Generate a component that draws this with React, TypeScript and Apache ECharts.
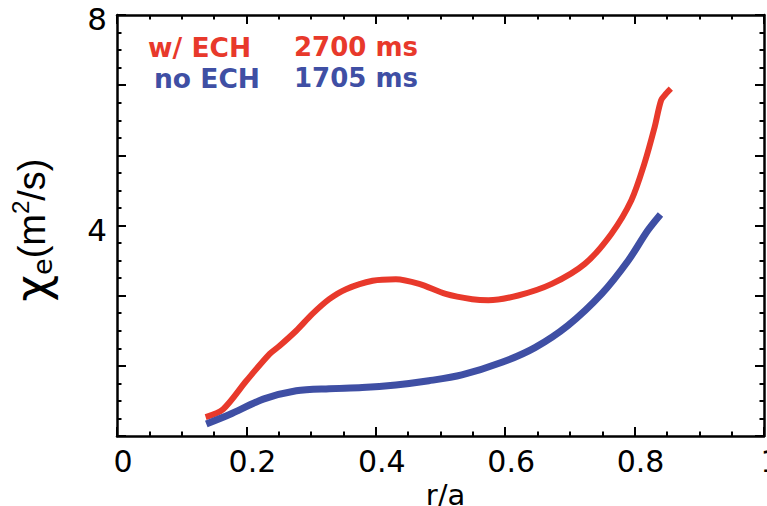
import React, { useEffect, useRef } from "react";
import * as echarts from "echarts";

// ---- data ----
const RED_R = [0.137, 0.164, 0.2, 0.236, 0.251, 0.277, 0.302, 0.328, 0.354, 0.395, 0.431, 0.467, 0.508, 0.549, 0.574, 0.62, 0.672, 0.723, 0.764, 0.795, 0.815, 0.831, 0.841, 0.849, 0.856];
const RED_V = [0.36, 0.51, 1.05, 1.56, 1.71, 2.0, 2.32, 2.6, 2.79, 2.95, 2.98, 2.89, 2.7, 2.6, 2.58, 2.67, 2.89, 3.27, 3.84, 4.48, 5.17, 5.87, 6.38, 6.51, 6.6];
const BLUE_R = [0.138, 0.174, 0.226, 0.277, 0.328, 0.379, 0.431, 0.482, 0.533, 0.595, 0.646, 0.697, 0.749, 0.79, 0.82, 0.84];
const BLUE_V = [0.23, 0.41, 0.7, 0.86, 0.9, 0.92, 0.97, 1.05, 1.16, 1.4, 1.68, 2.1, 2.7, 3.33, 3.9, 4.21];

const X_TICK_LABELS = ["0", "0.2", "0.4", "0.6", "0.8", "1"];
const Y_LABELED_TICKS = [4, 8];

const LEGEND_LEFT = ["w/ ECH", "no ECH"];
const LEGEND_RIGHT = ["2700 ms", "1705 ms"];

const RED = "#e8392b";
const BLUE = "#3f4fa4";
const FONT = "DejaVu Sans";

const zip = (a: number[], b: number[]) => a.map((v, i) => [v, b[i]]);

export default function App() {
  const ref = useRef<HTMLDivElement>(null);
  useEffect(() => {
    if (!ref.current) return;
    const chart = echarts.init(ref.current, null, { renderer: "svg" });
    const tickStyle = { color: "#000", width: 2 };
    const axisLine = { show: true, onZero: false, lineStyle: { color: "#000", width: 2.5 } };
    const xBase = {
      type: "value" as const,
      min: 0,
      max: 1,
      interval: 0.2,
      axisLine,
      axisTick: { show: true, inside: true, length: 9, lineStyle: tickStyle },
      minorTick: { show: true, splitNumber: 4, length: 4.5, lineStyle: tickStyle },
      splitLine: { show: false },
      minorSplitLine: { show: false },
    };
    const yBase = {
      type: "value" as const,
      min: 0,
      max: 8,
      interval: 4 / 3,
      axisLine,
      axisTick: { show: true, inside: true, length: 9, lineStyle: tickStyle },
      minorTick: { show: true, splitNumber: 4, length: 4.5, lineStyle: tickStyle },
      splitLine: { show: false },
      minorSplitLine: { show: false },
    };
    chart.setOption({
      animation: false,
      backgroundColor: "#fff",
      grid: { left: 117, right: 3, top: 15, bottom: 70, containLabel: false, outerBoundsMode: "none" },
      xAxis: [
        {
          ...xBase,
          position: "bottom",
          axisLabel: {
            show: true,
            margin: 10,
            color: "#000",
            fontFamily: FONT,
            fontSize: 30,
            padding: [0, 0, 0, 12],
            showMinLabel: true,
            showMaxLabel: true,
            formatter: (v: number) => X_TICK_LABELS[Math.round(v / 0.2)] ?? "",
          },
          name: "r/a",
          nameLocation: "middle",
          nameGap: 36,
          nameTextStyle: { color: "#000", fontFamily: FONT, fontSize: 29, padding: [0, 0, 0, 10] },
        },
        { ...xBase, position: "top", axisLabel: { show: false } },
      ],
      yAxis: [
        {
          ...yBase,
          position: "left",
          axisLabel: {
            show: true,
            margin: 10,
            color: "#000",
            fontFamily: FONT,
            fontSize: 31,
            formatter: (v: number) =>
              Y_LABELED_TICKS.some((t) => Math.abs(t - v) < 1e-6) ? `{d|${Math.round(v)}}` : "",
            rich: {
              d: { fontFamily: FONT, fontSize: 31, color: "#000", padding: [8, 0, 0, 0] },
            },
          },
        },
        { ...yBase, position: "right", axisLabel: { show: false } },
      ],
      series: [
        {
          type: "line",
          data: zip(RED_R, RED_V),
          showSymbol: false,
          smooth: 0.3,
          lineStyle: { color: RED, width: 6 },
          itemStyle: { color: RED },
          xAxisIndex: 0,
          yAxisIndex: 0,
        },
        {
          type: "line",
          data: zip(BLUE_R, BLUE_V),
          showSymbol: false,
          smooth: 0.3,
          lineStyle: { color: BLUE, width: 7 },
          itemStyle: { color: BLUE },
          xAxisIndex: 0,
          yAxisIndex: 0,
        },
      ],
      graphic: [
        {
          type: "text",
          x: 148,
          y: 47,
          style: { text: LEGEND_LEFT[0], fill: RED, fontFamily: FONT, fontWeight: "bold", fontSize: 26.5, align: "left", verticalAlign: "middle" },
        },
        {
          type: "text",
          x: 418,
          y: 47,
          style: { text: LEGEND_RIGHT[0], fill: RED, fontFamily: FONT, fontWeight: "bold", fontSize: 26, align: "right", verticalAlign: "middle" },
        },
        {
          type: "text",
          x: 154,
          y: 78,
          style: { text: LEGEND_LEFT[1], fill: BLUE, fontFamily: FONT, fontWeight: "bold", fontSize: 26.5, align: "left", verticalAlign: "middle" },
        },
        {
          type: "text",
          x: 418,
          y: 78,
          style: { text: LEGEND_RIGHT[1], fill: BLUE, fontFamily: FONT, fontWeight: "bold", fontSize: 26, align: "right", verticalAlign: "middle" },
        },
        {
          type: "text",
          x: 32,
          y: 230,
          rotation: Math.PI / 2,
          style: {
            text: "{chi|χ}{sub|e}{n|(m}{sup|2}{n|/s)}",
            align: "center",
            verticalAlign: "middle",
            fill: "#000",
            rich: {
              chi: { fontFamily: FONT, fontSize: 46, fill: "#000", lineHeight: 48 },
              sub: { fontFamily: FONT, fontSize: 27, fill: "#000", verticalAlign: "bottom", lineHeight: 30 },
              n: { fontFamily: "Liberation Sans", fontSize: 38, fill: "#000", lineHeight: 48 },
              sup: { fontFamily: "Liberation Sans", fontSize: 24, fill: "#000", verticalAlign: "top", lineHeight: 28 },
            },
          },
        },
      ],
    });
    return () => chart.dispose();
  }, []);
  return (
    <div
      ref={ref}
      style={{ position: "absolute", left: 0, top: 0, width: 767, height: 506, background: "#fff" }}
    />
  );
}
